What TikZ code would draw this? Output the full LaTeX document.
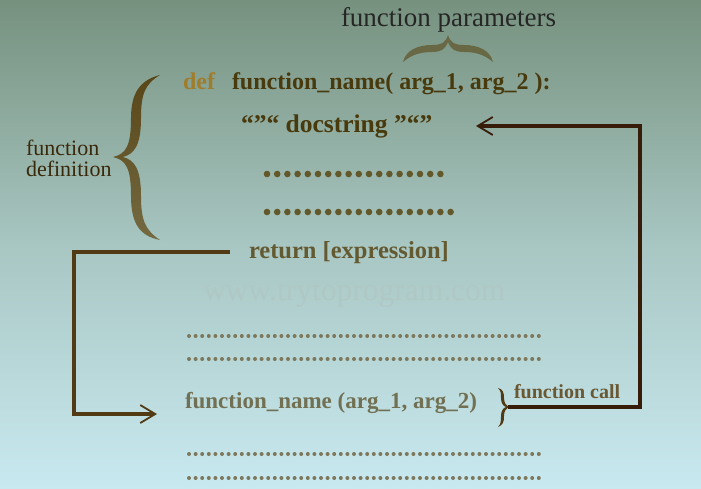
\documentclass[tikz,border=0pt]{standalone}
\usepackage{fontspec}
\setmainfont{Liberation Serif}
\usetikzlibrary{arrows.meta}
\definecolor{bgTop}{RGB}{118,145,126}
\definecolor{bgMid}{RGB}{168,198,194}
\definecolor{bgBot}{RGB}{200,233,240}
\definecolor{defGold}{RGB}{160,125,45}
\definecolor{codeDark}{RGB}{72,58,12}
\definecolor{dotOlive}{RGB}{98,88,42}
\definecolor{retOlive}{RGB}{100,90,50}
\definecolor{callGray}{RGB}{114,112,82}
\definecolor{smallDot}{RGB}{125,120,92}
\definecolor{braceTop}{RGB}{88,70,24}
\definecolor{braceBot}{RGB}{116,106,66}
\definecolor{topBrace}{RGB}{104,104,68}
\definecolor{labelBrown}{RGB}{58,40,10}
\definecolor{callBrown}{RGB}{105,88,50}
\definecolor{lineBrown}{RGB}{82,58,20}
\definecolor{lineDark}{RGB}{55,28,10}
\definecolor{wmark}{RGB}{176,200,197}

\begin{document}
\begin{tikzpicture}[x=1pt,y=-1pt]
  \tikzset{code/.style={font=\bfseries\fontsize{24}{24}\selectfont, text=codeDark},
    label text/.style={font=\fontsize{22}{21}\selectfont, text=labelBrown},
    bigdot/.style={fill=dotOlive},
    smalldot/.style={fill=smallDot},
    link/.style={draw, line width=3.2pt, -{Straight Barb[length=15pt,width=18pt,line width=1.8pt]}}}
  \tikzstyle{every node}=[inner sep=0pt, outer sep=0pt, anchor=base west]

  \shade[top color=bgTop, bottom color=bgBot, middle color=bgMid] (0,0) rectangle (701,489);

  \node[font=\fontsize{31.5}{31.5}\selectfont, text=wmark] (wm) at (203,300) {www.trytoprogram.com};

  \node[label text, font=\fontsize{27}{27}\selectfont, text=black!85] (params) at (341,27) {function parameters};
  \node[label text, align=left, anchor=west] (defn) at (26,158) {function\\definition};

  \node[code, text=defGold] (def) at (183,90) {def};
  \node[code] (fname) at (232,90) {function\_name( arg\_1, arg\_2 ):};
  \node[code, font=\bfseries\fontsize{25.5}{25.5}\selectfont] (doc) at (241,133) {“”“ docstring ”“”};
  \node[code, text=retOlive, font=\bfseries\fontsize{24.5}{24.5}\selectfont] (ret) at (249,258) {return [expression]};
  \node[code, text=callGray, font=\bfseries\fontsize{23}{23}\selectfont] (call) at (185,408) {function\_name (arg\_1, arg\_2)};
  \node[label text, font=\bfseries\fontsize{20}{20}\selectfont, text=callBrown] (fcall) at (514,398) {function call};

  % body lines
  \foreach \i in {0,...,17} \fill[bigdot] (267+10.2*\i,174) circle (3.3pt);
  \foreach \i in {0,...,18} \fill[bigdot] (267+10.2*\i,212) circle (3.3pt);
  \foreach \y in {336,359,454,478}
    \foreach \i in {0,...,53} \fill[smalldot] (189+6.6*\i,\y) circle (2pt);

  % braces
  \shade[top color=braceTop, bottom color=braceBot] (160,75)
    .. controls (140,80) and (131,93) .. (131,118)
    .. controls (131,146) and (126,154) .. (113,157)
    .. controls (126,160) and (131,168) .. (131,196)
    .. controls (131,224) and (140,236) .. (160,240)
    .. controls (145,230) and (141,220) .. (141,196)
    .. controls (141,168) and (134,160) .. (123,157)
    .. controls (134,154) and (141,146) .. (141,118)
    .. controls (141,94) and (145,84) .. (160,75) -- cycle;
  \fill[topBrace] (403,62)
    .. controls (406,50) and (418,45) .. (432,45)
    .. controls (442,45) and (446,42) .. (448,35)
    .. controls (450,42) and (454,45) .. (464,45)
    .. controls (478,45) and (490,50) .. (493,62)
    .. controls (485,55) and (476,52) .. (464,52)
    .. controls (454,52) and (450,48) .. (448,42)
    .. controls (446,48) and (442,52) .. (432,52)
    .. controls (420,52) and (411,55) .. (403,62) -- cycle;
  \fill[lineBrown] (498,388)
    .. controls (503,389) and (504,393) .. (504,398)
    .. controls (504,403) and (506,406) .. (510,407)
    .. controls (506,408) and (504,411) .. (504,416)
    .. controls (504,422) and (503,425) .. (498,427)
    .. controls (501,424) and (501,421) .. (501,416)
    .. controls (501,411) and (503,408) .. (506,407)
    .. controls (503,406) and (501,403) .. (501,398)
    .. controls (501,393) and (501,391) .. (498,388) -- cycle;

  \coordinate (retout) at (230,252);
  \coordinate (callin) at (157,414);
  \coordinate (bracetip) at (508,407);
  \coordinate (docin) at (476,126);

  \draw[link, lineBrown] (retout) -- (74,252) |- (callin);
  \draw[link, lineDark] (bracetip) -- (640,407) |- (docin);

\end{tikzpicture}
\end{document}
